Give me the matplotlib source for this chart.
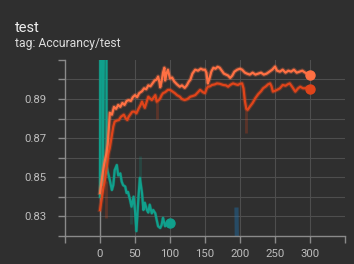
import numpy as np
import matplotlib.pyplot as plt

plt.rcParams['font.family'] = ['Roboto', 'DejaVu Sans']

# run 1 (light orange)
steps_a = [0, 3, 6, 9, 11, 13, 14, 17, 20, 23, 26, 29, 32, 35, 38, 41, 44, 47, 50, 53, 56, 60, 63, 66, 69, 72, 75, 78, 81, 83, 85, 86, 88, 90, 92, 93, 95, 97, 100, 103, 106, 110, 114, 117, 121, 124, 127, 129, 132, 136, 140, 144, 147, 150, 152, 154, 156, 159, 162, 165, 168, 171, 174, 177, 180, 183, 186, 189, 192, 196, 200, 203, 207, 210, 214, 218, 222, 226, 230, 234, 238, 242, 246, 250, 253, 257, 261, 265, 269, 273, 277, 281, 285, 289, 293, 296, 300]
acc_a = [0.842, 0.850, 0.857, 0.862, 0.867, 0.877, 0.883, 0.882, 0.886, 0.885, 0.887, 0.886, 0.888, 0.887, 0.889, 0.8895, 0.889, 0.891, 0.892, 0.891, 0.893, 0.894, 0.8955, 0.895, 0.897, 0.8965, 0.898, 0.8995, 0.900, 0.9015, 0.8985, 0.896, 0.899, 0.9035, 0.906, 0.8995, 0.903, 0.905, 0.9005, 0.901, 0.899, 0.8975, 0.8963, 0.897, 0.8957, 0.897, 0.899, 0.8998, 0.903, 0.905, 0.9045, 0.9055, 0.905, 0.905, 0.9035, 0.898, 0.900, 0.904, 0.906, 0.9055, 0.9065, 0.906, 0.9045, 0.903, 0.9025, 0.902, 0.9008, 0.902, 0.904, 0.905, 0.9055, 0.905, 0.9035, 0.903, 0.9025, 0.9035, 0.9025, 0.903, 0.9035, 0.9025, 0.903, 0.904, 0.905, 0.9066, 0.9045, 0.904, 0.905, 0.9035, 0.9045, 0.904, 0.905, 0.9035, 0.904, 0.9045, 0.9035, 0.903, 0.9023]

# run 2 (dark orange)
steps_b = [0, 2, 5, 7, 10, 12, 14, 17, 19, 21, 24, 27, 30, 34, 37, 39, 41, 43, 46, 49, 52, 55, 58, 60, 62, 64, 67, 69, 71, 74, 77, 79, 81, 84, 86, 88, 90, 93, 97, 100, 103, 107, 110, 114, 117, 121, 125, 129, 132, 136, 140, 143, 147, 150, 152, 154, 157, 160, 164, 167, 171, 176, 180, 183, 186, 190, 194, 197, 200, 203, 205, 207, 209, 211, 214, 218, 222, 226, 230, 233, 237, 240, 243, 245, 247, 250, 253, 257, 261, 265, 268, 271, 275, 279, 283, 286, 290, 293, 296, 300]
acc_b = [0.8333, 0.838, 0.845, 0.8486, 0.856, 0.862, 0.865, 0.8716, 0.876, 0.8785, 0.879, 0.8793, 0.881, 0.882, 0.880, 0.8793, 0.881, 0.882, 0.8835, 0.8836, 0.8827, 0.885, 0.887, 0.8887, 0.887, 0.8855, 0.889, 0.8912, 0.8905, 0.8895, 0.891, 0.892, 0.8887, 0.8895, 0.8904, 0.892, 0.893, 0.8935, 0.8947, 0.8947, 0.894, 0.893, 0.892, 0.8912, 0.890, 0.8895, 0.890, 0.8912, 0.8915, 0.892, 0.8935, 0.8947, 0.8935, 0.893, 0.895, 0.8963, 0.8965, 0.8972, 0.8975, 0.898, 0.8978, 0.8972, 0.897, 0.8963, 0.8972, 0.898, 0.8975, 0.8972, 0.8978, 0.898, 0.8955, 0.889, 0.885, 0.8845, 0.8861, 0.888, 0.8905, 0.8925, 0.894, 0.8955, 0.8965, 0.8975, 0.898, 0.8965, 0.8938, 0.8942, 0.8947, 0.8955, 0.8972, 0.8968, 0.8975, 0.898, 0.896, 0.8938, 0.8955, 0.8963, 0.8955, 0.8955, 0.896, 0.895]

# run 3 (teal)
steps_c = [0, 0.7, 3.3, 4, 6.3, 9, 9.5, 11, 14, 17, 19, 21, 24, 26, 29, 31, 33, 36, 38, 40, 43, 45, 48, 50, 52, 55, 57, 60, 62, 64, 67, 69, 71, 74, 76, 79, 81, 83, 86, 88, 90, 93, 95, 98, 100]
acc_c = [0.840, 0.95, 0.95, 0.846, 0.95, 0.95, 0.856, 0.853, 0.8486, 0.8435, 0.846, 0.8537, 0.8563, 0.851, 0.852, 0.8478, 0.846, 0.8453, 0.842, 0.8425, 0.8384, 0.835, 0.8401, 0.833, 0.8225, 0.840, 0.8497, 0.842, 0.8333, 0.837, 0.8333, 0.832, 0.836, 0.8316, 0.8333, 0.8316, 0.8282, 0.825, 0.8241, 0.8256, 0.8293, 0.825, 0.8265, 0.826, 0.8267]

# faint raw outliers
spike_b_steps = [8, 81, 209]
spike_b_base = [0.848, 0.889, 0.885]
spike_b_vals = [0.829, 0.880, 0.8727]
spike_c_steps = [57, 45]
spike_c_base = [0.8497, 0.835]
spike_c_vals = [0.861, 0.826]
blue_steps = [195, 196]
blue_vals = [0.8335, 0.80]

bg = '#2f2f2f'
fig = plt.figure(figsize=(3.54, 2.64), dpi=100, facecolor=bg)
ax = fig.add_axes([0.1836, 0.106, 0.791, 0.667], facecolor=bg)

col_a = '#ff7043'
col_b = '#e0441a'
col_c = '#10a08c'

for s, v, c, halo in [(steps_c, acc_c, col_c, 2.4), (steps_b, acc_b, col_b, 3.2), (steps_a, acc_a, col_a, 3.2)]:
    ax.plot(s, v, color=c, lw=halo, alpha=0.3, solid_joinstyle='round')
    ax.plot(s, v, color=c, lw=1.6, solid_joinstyle='round')
    ax.plot(s[-1], v[-1], 'o', color=c, ms=6.5)

ax.vlines(spike_b_steps, spike_b_base, spike_b_vals, color=col_b, lw=2, alpha=0.25)
ax.vlines(spike_c_steps, spike_c_base, spike_c_vals, color=col_c, lw=2, alpha=0.2)
ax.plot(blue_steps, blue_vals, color='#1f6fa8', lw=3, alpha=0.45)

ax.set_xlim(-50, 350)
ax.set_ylim(0.82, 0.91)
xt = np.arange(-50, 351, 50)
ax.set_xticks(xt)
ax.set_xticklabels(['' if t < 0 or t > 300 else str(t) for t in xt])
yt = np.round(np.arange(0.82, 0.9101, 0.01), 2)
ax.set_yticks(yt)
ax.set_yticklabels(['%.2f' % t if t in (0.83, 0.85, 0.87, 0.89) else '' for t in yt])

ax.grid(True, color='#4e4e4e', lw=0.8)
for i, g in enumerate(ax.get_xgridlines()):
    if xt[i] < 0 or xt[i] > 300:
        g.set_visible(False)
ax.get_ygridlines()[-1].set_visible(False)
ax.get_ygridlines()[0].set_visible(False)
ax.axvline(0, color='#8a8a8a', lw=1, zorder=1)
ax.set_axisbelow(True)

for sp in ['top', 'right']:
    ax.spines[sp].set_visible(False)
for sp in ['left', 'bottom']:
    ax.spines[sp].set_color('#8a8a8a')
    ax.spines[sp].set_linewidth(1)
ax.tick_params(colors='#8a8a8a', labelcolor='#bdbdbd', labelsize=8.2, length=5, width=1)
ax.tick_params(axis='x', pad=4)
ax.tick_params(axis='y', pad=8)

fig.text(0.042, 0.895, 'test', color='#eeeeee', fontsize=10.5, va='center')
fig.text(0.042, 0.835, 'tag: Accurancy/test', color='#dddddd', fontsize=8.7, va='center')

fig.savefig('out.png', dpi=100, facecolor=bg)
